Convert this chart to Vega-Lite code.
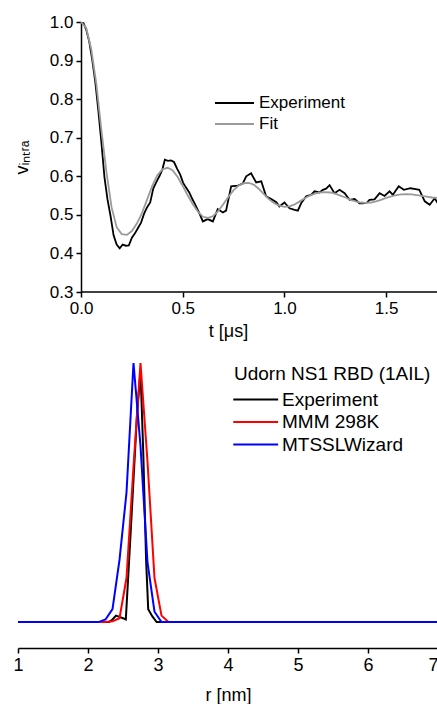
{
  "$schema": "https://vega.github.io/schema/vega-lite/v6.json",
  "padding": {"left": 12, "top": 13, "right": 0, "bottom": 0},
  "background": "white",
  "config": {
    "font": "Liberation Sans",
    "view": {"stroke": null},
    "axis": {
      "labelFontSize": 17, "titleFontSize": 18, "titleFontWeight": "normal",
      "labelColor": "black", "titleColor": "black", "domainColor": "black", "tickColor": "black",
      "domainWidth": 1.5, "tickWidth": 1.5, "tickSize": 5, "grid": false, "labelPadding": 3,
      "labelOverlap": false, "labelFlush": false, "labelFont": "Liberation Sans", "titleFont": "Liberation Sans"
    },
    "legend": {"labelFont": "Liberation Sans", "titleFont": "Liberation Sans", "labelColor": "black", "titleColor": "black", "padding": 0, "titleLimit": 400, "labelLimit": 300}
  },
  "datasets": {
    "trace": [
      {"t": 0.000, "v": 1.000, "s": "Experiment"},
      {"t": 0.012, "v": 0.997, "s": "Experiment"},
      {"t": 0.025, "v": 0.981, "s": "Experiment"},
      {"t": 0.040, "v": 0.950, "s": "Experiment"},
      {"t": 0.055, "v": 0.902, "s": "Experiment"},
      {"t": 0.070, "v": 0.845, "s": "Experiment"},
      {"t": 0.085, "v": 0.770, "s": "Experiment"},
      {"t": 0.100, "v": 0.688, "s": "Experiment"},
      {"t": 0.115, "v": 0.598, "s": "Experiment"},
      {"t": 0.130, "v": 0.540, "s": "Experiment"},
      {"t": 0.145, "v": 0.497, "s": "Experiment"},
      {"t": 0.160, "v": 0.447, "s": "Experiment"},
      {"t": 0.175, "v": 0.423, "s": "Experiment"},
      {"t": 0.190, "v": 0.413, "s": "Experiment"},
      {"t": 0.205, "v": 0.423, "s": "Experiment"},
      {"t": 0.220, "v": 0.420, "s": "Experiment"},
      {"t": 0.235, "v": 0.421, "s": "Experiment"},
      {"t": 0.250, "v": 0.441, "s": "Experiment"},
      {"t": 0.265, "v": 0.452, "s": "Experiment"},
      {"t": 0.280, "v": 0.466, "s": "Experiment"},
      {"t": 0.295, "v": 0.480, "s": "Experiment"},
      {"t": 0.310, "v": 0.503, "s": "Experiment"},
      {"t": 0.325, "v": 0.520, "s": "Experiment"},
      {"t": 0.340, "v": 0.532, "s": "Experiment"},
      {"t": 0.355, "v": 0.568, "s": "Experiment"},
      {"t": 0.370, "v": 0.585, "s": "Experiment"},
      {"t": 0.385, "v": 0.600, "s": "Experiment"},
      {"t": 0.400, "v": 0.618, "s": "Experiment"},
      {"t": 0.412, "v": 0.643, "s": "Experiment"},
      {"t": 0.427, "v": 0.640, "s": "Experiment"},
      {"t": 0.442, "v": 0.641, "s": "Experiment"},
      {"t": 0.457, "v": 0.637, "s": "Experiment"},
      {"t": 0.472, "v": 0.620, "s": "Experiment"},
      {"t": 0.487, "v": 0.605, "s": "Experiment"},
      {"t": 0.502, "v": 0.583, "s": "Experiment"},
      {"t": 0.517, "v": 0.570, "s": "Experiment"},
      {"t": 0.532, "v": 0.558, "s": "Experiment"},
      {"t": 0.547, "v": 0.541, "s": "Experiment"},
      {"t": 0.562, "v": 0.526, "s": "Experiment"},
      {"t": 0.582, "v": 0.504, "s": "Experiment"},
      {"t": 0.599, "v": 0.483, "s": "Experiment"},
      {"t": 0.623, "v": 0.489, "s": "Experiment"},
      {"t": 0.648, "v": 0.483, "s": "Experiment"},
      {"t": 0.672, "v": 0.515, "s": "Experiment"},
      {"t": 0.697, "v": 0.506, "s": "Experiment"},
      {"t": 0.713, "v": 0.511, "s": "Experiment"},
      {"t": 0.738, "v": 0.574, "s": "Experiment"},
      {"t": 0.771, "v": 0.576, "s": "Experiment"},
      {"t": 0.795, "v": 0.581, "s": "Experiment"},
      {"t": 0.812, "v": 0.600, "s": "Experiment"},
      {"t": 0.836, "v": 0.608, "s": "Experiment"},
      {"t": 0.861, "v": 0.584, "s": "Experiment"},
      {"t": 0.886, "v": 0.587, "s": "Experiment"},
      {"t": 0.910, "v": 0.548, "s": "Experiment"},
      {"t": 0.935, "v": 0.541, "s": "Experiment"},
      {"t": 0.960, "v": 0.533, "s": "Experiment"},
      {"t": 0.975, "v": 0.522, "s": "Experiment"},
      {"t": 1.000, "v": 0.532, "s": "Experiment"},
      {"t": 1.025, "v": 0.517, "s": "Experiment"},
      {"t": 1.050, "v": 0.513, "s": "Experiment"},
      {"t": 1.066, "v": 0.511, "s": "Experiment"},
      {"t": 1.082, "v": 0.530, "s": "Experiment"},
      {"t": 1.107, "v": 0.548, "s": "Experiment"},
      {"t": 1.131, "v": 0.552, "s": "Experiment"},
      {"t": 1.148, "v": 0.561, "s": "Experiment"},
      {"t": 1.172, "v": 0.558, "s": "Experiment"},
      {"t": 1.189, "v": 0.565, "s": "Experiment"},
      {"t": 1.205, "v": 0.568, "s": "Experiment"},
      {"t": 1.222, "v": 0.577, "s": "Experiment"},
      {"t": 1.246, "v": 0.556, "s": "Experiment"},
      {"t": 1.271, "v": 0.565, "s": "Experiment"},
      {"t": 1.296, "v": 0.556, "s": "Experiment"},
      {"t": 1.320, "v": 0.539, "s": "Experiment"},
      {"t": 1.345, "v": 0.541, "s": "Experiment"},
      {"t": 1.369, "v": 0.530, "s": "Experiment"},
      {"t": 1.386, "v": 0.530, "s": "Experiment"},
      {"t": 1.406, "v": 0.532, "s": "Experiment"},
      {"t": 1.418, "v": 0.539, "s": "Experiment"},
      {"t": 1.443, "v": 0.540, "s": "Experiment"},
      {"t": 1.468, "v": 0.556, "s": "Experiment"},
      {"t": 1.492, "v": 0.549, "s": "Experiment"},
      {"t": 1.517, "v": 0.561, "s": "Experiment"},
      {"t": 1.533, "v": 0.552, "s": "Experiment"},
      {"t": 1.562, "v": 0.574, "s": "Experiment"},
      {"t": 1.587, "v": 0.565, "s": "Experiment"},
      {"t": 1.620, "v": 0.569, "s": "Experiment"},
      {"t": 1.645, "v": 0.567, "s": "Experiment"},
      {"t": 1.663, "v": 0.565, "s": "Experiment"},
      {"t": 1.690, "v": 0.535, "s": "Experiment"},
      {"t": 1.714, "v": 0.526, "s": "Experiment"},
      {"t": 1.739, "v": 0.543, "s": "Experiment"},
      {"t": 1.760, "v": 0.525, "s": "Experiment"},
      {"t": 0.000, "v": 1.000, "s": "Fit"},
      {"t": 0.025, "v": 0.985, "s": "Fit"},
      {"t": 0.050, "v": 0.930, "s": "Fit"},
      {"t": 0.075, "v": 0.840, "s": "Fit"},
      {"t": 0.100, "v": 0.720, "s": "Fit"},
      {"t": 0.125, "v": 0.610, "s": "Fit"},
      {"t": 0.150, "v": 0.520, "s": "Fit"},
      {"t": 0.175, "v": 0.468, "s": "Fit"},
      {"t": 0.200, "v": 0.450, "s": "Fit"},
      {"t": 0.225, "v": 0.448, "s": "Fit"},
      {"t": 0.250, "v": 0.458, "s": "Fit"},
      {"t": 0.275, "v": 0.478, "s": "Fit"},
      {"t": 0.300, "v": 0.505, "s": "Fit"},
      {"t": 0.325, "v": 0.540, "s": "Fit"},
      {"t": 0.350, "v": 0.575, "s": "Fit"},
      {"t": 0.375, "v": 0.603, "s": "Fit"},
      {"t": 0.400, "v": 0.618, "s": "Fit"},
      {"t": 0.425, "v": 0.622, "s": "Fit"},
      {"t": 0.450, "v": 0.616, "s": "Fit"},
      {"t": 0.475, "v": 0.598, "s": "Fit"},
      {"t": 0.500, "v": 0.575, "s": "Fit"},
      {"t": 0.525, "v": 0.550, "s": "Fit"},
      {"t": 0.550, "v": 0.527, "s": "Fit"},
      {"t": 0.575, "v": 0.508, "s": "Fit"},
      {"t": 0.600, "v": 0.495, "s": "Fit"},
      {"t": 0.625, "v": 0.492, "s": "Fit"},
      {"t": 0.650, "v": 0.497, "s": "Fit"},
      {"t": 0.675, "v": 0.510, "s": "Fit"},
      {"t": 0.700, "v": 0.528, "s": "Fit"},
      {"t": 0.725, "v": 0.547, "s": "Fit"},
      {"t": 0.750, "v": 0.564, "s": "Fit"},
      {"t": 0.775, "v": 0.576, "s": "Fit"},
      {"t": 0.800, "v": 0.582, "s": "Fit"},
      {"t": 0.825, "v": 0.583, "s": "Fit"},
      {"t": 0.850, "v": 0.578, "s": "Fit"},
      {"t": 0.875, "v": 0.567, "s": "Fit"},
      {"t": 0.900, "v": 0.553, "s": "Fit"},
      {"t": 0.925, "v": 0.540, "s": "Fit"},
      {"t": 0.950, "v": 0.530, "s": "Fit"},
      {"t": 0.975, "v": 0.524, "s": "Fit"},
      {"t": 1.000, "v": 0.521, "s": "Fit"},
      {"t": 1.025, "v": 0.522, "s": "Fit"},
      {"t": 1.050, "v": 0.527, "s": "Fit"},
      {"t": 1.075, "v": 0.535, "s": "Fit"},
      {"t": 1.100, "v": 0.543, "s": "Fit"},
      {"t": 1.125, "v": 0.550, "s": "Fit"},
      {"t": 1.150, "v": 0.555, "s": "Fit"},
      {"t": 1.175, "v": 0.558, "s": "Fit"},
      {"t": 1.200, "v": 0.559, "s": "Fit"},
      {"t": 1.225, "v": 0.558, "s": "Fit"},
      {"t": 1.250, "v": 0.555, "s": "Fit"},
      {"t": 1.275, "v": 0.550, "s": "Fit"},
      {"t": 1.300, "v": 0.545, "s": "Fit"},
      {"t": 1.325, "v": 0.539, "s": "Fit"},
      {"t": 1.350, "v": 0.535, "s": "Fit"},
      {"t": 1.375, "v": 0.532, "s": "Fit"},
      {"t": 1.400, "v": 0.531, "s": "Fit"},
      {"t": 1.425, "v": 0.532, "s": "Fit"},
      {"t": 1.450, "v": 0.535, "s": "Fit"},
      {"t": 1.475, "v": 0.539, "s": "Fit"},
      {"t": 1.500, "v": 0.544, "s": "Fit"},
      {"t": 1.525, "v": 0.548, "s": "Fit"},
      {"t": 1.550, "v": 0.551, "s": "Fit"},
      {"t": 1.575, "v": 0.553, "s": "Fit"},
      {"t": 1.600, "v": 0.554, "s": "Fit"},
      {"t": 1.625, "v": 0.553, "s": "Fit"},
      {"t": 1.650, "v": 0.551, "s": "Fit"},
      {"t": 1.675, "v": 0.549, "s": "Fit"},
      {"t": 1.700, "v": 0.547, "s": "Fit"},
      {"t": 1.725, "v": 0.545, "s": "Fit"},
      {"t": 1.750, "v": 0.544, "s": "Fit"}
    ],
    "traceAxis": [
      {"t0": 0, "t1": 1.755, "v": 0.3}
    ],
    "dist": [
      {"r": 1.00, "p": 0.000, "s": "Experiment"},
      {"r": 2.30, "p": 0.000, "s": "Experiment"},
      {"r": 2.35, "p": 0.010, "s": "Experiment"},
      {"r": 2.40, "p": 0.025, "s": "Experiment"},
      {"r": 2.45, "p": 0.020, "s": "Experiment"},
      {"r": 2.50, "p": 0.015, "s": "Experiment"},
      {"r": 2.54, "p": 0.010, "s": "Experiment"},
      {"r": 2.60, "p": 0.300, "s": "Experiment"},
      {"r": 2.70, "p": 0.800, "s": "Experiment"},
      {"r": 2.75, "p": 0.970, "s": "Experiment"},
      {"r": 2.79, "p": 0.650, "s": "Experiment"},
      {"r": 2.83, "p": 0.240, "s": "Experiment"},
      {"r": 2.86, "p": 0.050, "s": "Experiment"},
      {"r": 2.92, "p": 0.022, "s": "Experiment"},
      {"r": 2.98, "p": 0.000, "s": "Experiment"},
      {"r": 7.00, "p": 0.000, "s": "Experiment"},
      {"r": 1.00, "p": 0.000, "s": "MMM 298K"},
      {"r": 2.25, "p": 0.000, "s": "MMM 298K"},
      {"r": 2.35, "p": 0.003, "s": "MMM 298K"},
      {"r": 2.45, "p": 0.015, "s": "MMM 298K"},
      {"r": 2.55, "p": 0.170, "s": "MMM 298K"},
      {"r": 2.65, "p": 0.600, "s": "MMM 298K"},
      {"r": 2.75, "p": 1.000, "s": "MMM 298K"},
      {"r": 2.85, "p": 0.620, "s": "MMM 298K"},
      {"r": 2.95, "p": 0.170, "s": "MMM 298K"},
      {"r": 3.05, "p": 0.025, "s": "MMM 298K"},
      {"r": 3.15, "p": 0.000, "s": "MMM 298K"},
      {"r": 7.00, "p": 0.000, "s": "MMM 298K"},
      {"r": 1.00, "p": 0.000, "s": "MTSSLWizard"},
      {"r": 2.15, "p": 0.000, "s": "MTSSLWizard"},
      {"r": 2.25, "p": 0.010, "s": "MTSSLWizard"},
      {"r": 2.35, "p": 0.050, "s": "MTSSLWizard"},
      {"r": 2.45, "p": 0.240, "s": "MTSSLWizard"},
      {"r": 2.55, "p": 0.500, "s": "MTSSLWizard"},
      {"r": 2.65, "p": 1.000, "s": "MTSSLWizard"},
      {"r": 2.75, "p": 0.680, "s": "MTSSLWizard"},
      {"r": 2.85, "p": 0.230, "s": "MTSSLWizard"},
      {"r": 2.95, "p": 0.040, "s": "MTSSLWizard"},
      {"r": 3.05, "p": 0.000, "s": "MTSSLWizard"},
      {"r": 7.00, "p": 0.000, "s": "MTSSLWizard"}
    ]
  },
  "spacing": 23,
  "resolve": {"scale": {"color": "independent", "x": "independent", "y": "independent"}, "legend": {"color": "independent"}},
  "vconcat": [
    {
      "width": 420,
      "height": 270,
      "encoding": {
        "x": {"type": "quantitative",
              "scale": {"domain": [-0.31, 1.755], "nice": false, "zero": false},
              "axis": {"values": [0, 0.5, 1, 1.5], "format": ".1f", "title": "t [μs]", "titlePadding": 6, "domain": false, "labelOverlap": false, "labelFlush": false}},
        "y": {"type": "quantitative",
              "scale": {"domain": [0.3, 1.0], "nice": false, "zero": false},
              "axis": {"values": [0.3, 0.4, 0.5, 0.6, 0.7, 0.8, 0.9, 1.0], "format": ".1f", "title": "vᵢₙₜᵣₐ", "titlePadding": 18, "offset": -63, "labelOverlap": false, "labelFlush": false, "tickCount": 8}}
      },
      "layer": [
        {
          "data": {"name": "trace"},
          "mark": {"type": "line", "strokeWidth": 1.8, "clip": true},
          "encoding": {
            "x": {"field": "t"},
            "y": {"field": "v"},
            "color": {"field": "s", "type": "nominal",
                      "scale": {"domain": ["Experiment", "Fit"], "range": ["#000000", "#9a9a9a"]},
                      "legend": {"orient": "none", "legendX": 197, "legendY": 71, "title": null,
                                 "symbolType": "M-1.11,0L3.22,0", "symbolSize": 324, "symbolStrokeWidth": 2,
                                 "labelFontSize": 17, "rowPadding": 3, "labelOffset": 24}}
          }
        },
        {
          "data": {"name": "traceAxis"},
          "mark": {"type": "rule", "strokeWidth": 1.5, "color": "black"},
          "encoding": {
            "x": {"field": "t0"},
            "x2": {"field": "t1"},
            "y": {"field": "v"}
          }
        }
      ]
    },
    {
      "width": 420,
      "height": 285,
      "data": {"name": "dist"},
      "mark": {"type": "line", "strokeWidth": 2, "clip": true},
      "encoding": {
        "x": {"field": "r", "type": "quantitative",
              "scale": {"domain": [1, 7], "nice": false},
              "axis": {"values": [1, 2, 3, 4, 5, 6, 7], "format": "d", "title": "r [nm]", "titlePadding": 12, "labelFontSize": 18,
                       "labelFlush": false, "labelOverlap": false,
                       "labelAlign": {"condition": {"test": "datum.value >= 7", "value": "right"}, "value": "center"}}},
        "y": {"field": "p", "type": "quantitative",
              "scale": {"domain": [-0.1, 1.0], "nice": false, "zero": false},
              "axis": null},
        "color": {"field": "s", "type": "nominal",
                  "scale": {"domain": ["Experiment", "MMM 298K", "MTSSLWizard"], "range": ["#000000", "#ff0000", "#0000ff"]},
                  "legend": {"orient": "none", "legendX": 216, "legendY": 2, "title": "Udorn NS1 RBD (1AIL)",
                             "titleFontSize": 19, "titleFontWeight": "normal", "titlePadding": 4,
                             "symbolType": "M-1.2,0L3.2,0", "symbolSize": 416, "symbolStrokeWidth": 2,
                             "labelFontSize": 19, "rowPadding": 0.5, "labelOffset": 25}}
      }
    }
  ]
}
